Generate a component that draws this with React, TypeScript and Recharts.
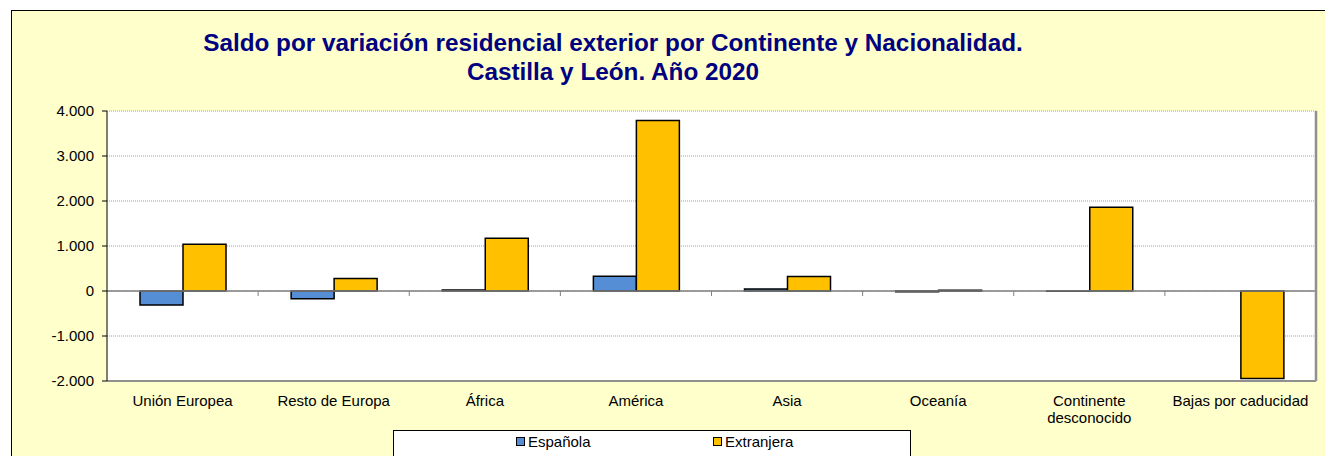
import { BarChart, Bar, XAxis, YAxis, CartesianGrid, ReferenceLine, Text } from "recharts"

const categories = [
  "Unión Europea",
  "Resto de Europa",
  "África",
  "América",
  "Asia",
  "Oceanía",
  "Continente desconocido",
  "Bajas por caducidad",
]
const espanola = [-310, -170, 25, 330, 45, -15, -5, 0]
const extranjera = [1040, 280, 1170, 3790, 320, 15, 1860, -1945]
const yTicks = [-2000, -1000, 0, 1000, 2000, 3000, 4000]
const seriesNames = ["Española", "Extranjera"]
const seriesColors = ["#558ED5", "#FFC000"]

const data = categories.map((name, i) => ({
  name,
  espanola: espanola[i],
  extranjera: extranjera[i],
}))

const FONT = '"Liberation Sans", Arial, sans-serif'

const fmt = (v: number) => {
  const s = Math.abs(v).toString().replace(/\B(?=(\d{3})+(?!\d))/g, ".")
  return v < 0 ? "-" + s : s
}

function CategoryTick(props: any) {
  const { x, y, payload } = props
  return (
    <Text
      x={x}
      y={y}
      width={150}
      textAnchor="middle"
      verticalAnchor="start"
      lineHeight={17}
      fontSize={15}
      fontFamily={FONT}
      fill="#000"
    >
      {payload.value}
    </Text>
  )
}

// zero line with the category separator ticks hanging below it
function ZeroLine(props: any) {
  const { x1, x2, y1 } = props
  const n = categories.length
  const step = (x2 - x1) / n
  const ticks = []
  for (let i = 1; i < n; i++) {
    const x = x1 + step * i
    ticks.push(<line key={i} x1={x} x2={x} y1={y1} y2={y1 + 5} stroke="#808080" strokeWidth={1} />)
  }
  return (
    <g>
      <line x1={x1} x2={x2} y1={y1} y2={y1} stroke="#808080" strokeWidth={1.5} />
      {ticks}
    </g>
  )
}

// right edge of the plot frame
function FrameEdge(props: any) {
  const { x1, y1, y2 } = props
  return <line x1={x1} x2={x1} y1={y1} y2={y2} stroke="#909090" strokeWidth={2.5} />
}

export default function App() {
  return (
    <div style={{ position: "absolute", left: 0, top: 0, width: 1325, height: 456, overflow: "hidden", background: "#fff" }}>
      <div
        style={{
          position: "absolute",
          left: 11,
          top: 10,
          width: 1340,
          height: 470,
          background: "#FFFFCC",
          borderLeft: "1px solid #000",
          borderTop: "1px solid #000",
        }}
      />
      <div
        style={{
          position: "absolute",
          left: 0,
          top: 28,
          width: 1226,
          textAlign: "center",
          fontFamily: FONT,
          fontWeight: "bold",
          fontSize: 24.3,
          lineHeight: "29px",
          color: "#000080",
        }}
      >
        Saldo por variación residencial exterior por Continente y Nacionalidad.
        <br />
        Castilla y León. Año 2020
      </div>
      <div style={{ position: "absolute", left: 0, top: 0 }}>
        <BarChart
          width={1325}
          height={456}
          data={data}
          margin={{ top: 111, right: 9, left: 47, bottom: 25 }}
          barSize={43}
          barGap={0}
        >
          <CartesianGrid
            horizontal
            vertical={false}
            fill="#fff"
            stroke="#a0a0a0"
            strokeDasharray="1 1"
            yAxisId="left"
          />
          <XAxis
            dataKey="name"
            interval={0}
            height={50}
            axisLine={{ stroke: "#909090", strokeWidth: 2 }}
            tickLine={false}
            tick={<CategoryTick />}
            tickMargin={8}
          />
          <XAxis xAxisId="top" orientation="top" dataKey="name" height={0} tick={false} tickLine={false} axisLine={{ stroke: "#a0a0a0", strokeWidth: 2 }} />
          <YAxis
            yAxisId="left"
            width={60}
            domain={[-2000, 4000]}
            ticks={yTicks}
            interval={0}
            tickFormatter={fmt}
            tickSize={5}
            tickMargin={8}
            axisLine={{ stroke: "#000" }}
            tickLine={{ stroke: "#000" }}
            tick={{ fontSize: 15, fontFamily: FONT, fill: "#000" }}
          />
          <ReferenceLine yAxisId="left" y={0} shape={<ZeroLine />} />
          <ReferenceLine yAxisId="left" x={categories[categories.length - 1]} position="end" shape={<FrameEdge />} />
          <Bar yAxisId="left" dataKey="espanola" name={seriesNames[0]} fill={seriesColors[0]} stroke="#000" strokeWidth={1.5} isAnimationActive={false} />
          <Bar yAxisId="left" dataKey="extranjera" name={seriesNames[1]} fill={seriesColors[1]} stroke="#000" strokeWidth={1.5} isAnimationActive={false} />
        </BarChart>
      </div>
      <div
        style={{
          position: "absolute",
          left: 393,
          top: 430,
          width: 516,
          height: 40,
          background: "#fff",
          border: "1px solid #000",
          fontFamily: FONT,
          fontSize: 15,
          color: "#000",
        }}
      >
        {seriesNames.map((s, i) => (
          <div key={s} style={{ position: "absolute", left: 122 + i * 197, top: 2, display: "flex", alignItems: "center", whiteSpace: "nowrap" }}>
            <span style={{ display: "inline-block", width: 7, height: 7, background: seriesColors[i], border: "1px solid #000", marginRight: 3 }} />
            {s}
          </div>
        ))}
      </div>
    </div>
  )
}
